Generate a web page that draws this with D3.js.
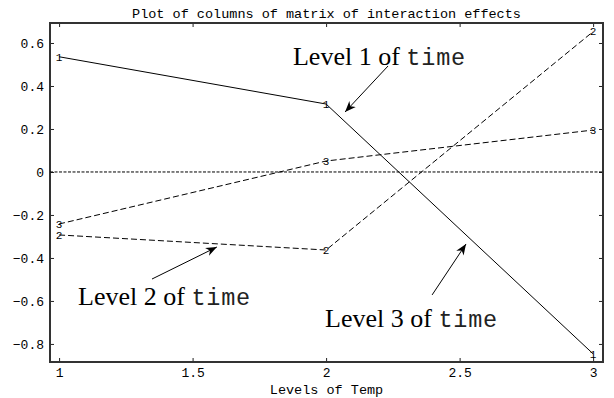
<!DOCTYPE html>
<html>
<head>
<meta charset="utf-8">
<style>
  body { margin: 0; background: #fff; }
  svg { display: block; }
  .tick text, .lbl { font-family: "Liberation Mono", "DejaVu Sans Mono", monospace; }
</style>
<script src="https://cdn.jsdelivr.net/npm/d3@7"></script>
</head>
<body>
<script>
// levels of Temp on x, one series per level of time
var temps = [1, 2, 3];
var level1 = [0.536, 0.316, -0.846];
var level2 = [-0.293, -0.363, 0.653];
var level3 = [-0.242, 0.051, 0.195];
var seriesNames = ["1", "2", "3"];
var xTicks = [1, 1.5, 2, 2.5, 3];
var yTicks = [-0.8, -0.6, -0.4, -0.2, 0, 0.2, 0.4, 0.6];

// annotation text + arrow (in data units)
var notes = [
  {lvl: "1", tx: 1.876, ty: 0.498, ax: 2.232, ay: 0.493, bx: 2.071, by: 0.279},
  {lvl: "2", tx: 1.071, ty: -0.619, ax: 1.348, ay: -0.498, bx: 1.591, by: -0.349},
  {lvl: "3", tx: 1.996, ty: -0.721, ax: 2.397, ay: -0.572, bx: 2.524, by: -0.335}
];

var W = 614, H = 398;
var pL = 50, pR = 603, pT = 23, pB = 362;

var x = d3.scaleLinear().domain([0.966, 3.037]).range([pL, pR]);
var y = d3.scaleLinear().domain([-0.884, 0.693]).range([pB, pT]);

var svg = d3.select("body").append("svg")
  .attr("width", W).attr("height", H);

svg.append("defs").append("marker")
  .attr("id", "arr")
  .attr("viewBox", "0 0 10 10")
  .attr("refX", 10).attr("refY", 5)
  .attr("markerWidth", 11).attr("markerHeight", 11)
  .attr("markerUnits", "userSpaceOnUse")
  .attr("orient", "auto")
  .append("path")
  .attr("d", "M0,1 L10,5 L0,9 L3,5 Z")
  .attr("fill", "#000");

// title
svg.append("text").attr("class", "lbl")
  .attr("x", (pL + pR) / 2).attr("y", 18)
  .attr("text-anchor", "middle")
  .style("font-size", "13.5px")
  .text("Plot of columns of matrix of interaction effects");

// axes with inward ticks
function styleAxis(g) {
  g.select(".domain").remove();
  g.selectAll(".tick line").attr("stroke", "#222").attr("stroke-width", 1);
  g.selectAll(".tick text").style("font-size", "13px").attr("fill", "#000");
}
svg.append("g").attr("transform", "translate(0," + pB + ")")
  .call(d3.axisBottom(x).tickValues(xTicks).tickSizeInner(-4).tickSizeOuter(0).tickPadding(6).tickFormat(d3.format("")))
  .call(styleAxis);
svg.append("g").attr("transform", "translate(0," + pT + ")")
  .call(d3.axisTop(x).tickValues(xTicks).tickSizeInner(-4).tickSizeOuter(0).tickFormat(""))
  .call(styleAxis);
svg.append("g").attr("transform", "translate(" + pL + ",0)")
  .call(d3.axisLeft(y).tickValues(yTicks).tickSizeInner(-4).tickSizeOuter(0).tickPadding(6).tickFormat(d3.format("")))
  .call(styleAxis);
svg.append("g").attr("transform", "translate(" + pR + ",0)")
  .call(d3.axisRight(y).tickValues(yTicks).tickSizeInner(-4).tickSizeOuter(0).tickFormat(""))
  .call(styleAxis);

// frame
svg.append("rect")
  .attr("x", pL).attr("y", pT)
  .attr("width", pR - pL).attr("height", pB - pT)
  .attr("fill", "none").attr("stroke", "#333").attr("stroke-width", 2);

// x-axis label
svg.append("text").attr("class", "lbl")
  .attr("x", (pL + pR) / 2).attr("y", 394)
  .attr("text-anchor", "middle")
  .style("font-size", "13.5px")
  .text("Levels of Temp");

// zero reference line
svg.append("line")
  .attr("x1", pL).attr("x2", pR)
  .attr("y1", y(0)).attr("y2", y(0))
  .attr("stroke", "#000").attr("stroke-width", 1)
  .attr("stroke-dasharray", "3,1.5");

var series = [level1, level2, level3];
var dashes = [null, "6,3", "6,3"];
var line = d3.line().x(d => x(d[0])).y(d => y(d[1]));

series.forEach(function (vals, i) {
  var pts = temps.map((t, j) => [t, vals[j]]);
  svg.append("path")
    .datum(pts)
    .attr("d", line)
    .attr("fill", "none")
    .attr("stroke", "#000")
    .attr("stroke-width", 1)
    .attr("stroke-dasharray", dashes[i]);
  svg.append("g").selectAll("text")
    .data(pts).enter().append("text")
    .attr("class", "lbl")
    .attr("x", d => x(d[0])).attr("y", d => y(d[1]))
    .attr("dy", "0.35em")
    .attr("text-anchor", "middle")
    .style("font-size", "11px")
    .text(seriesNames[i]);
});

// annotations
notes.forEach(function (n) {
  svg.append("line")
    .attr("x1", x(n.ax)).attr("y1", y(n.ay))
    .attr("x2", x(n.bx)).attr("y2", y(n.by))
    .attr("stroke", "#000").attr("stroke-width", 1)
    .attr("marker-end", "url(#arr)");
  var t = svg.append("text")
    .attr("x", x(n.tx)).attr("y", y(n.ty));
  t.append("tspan")
    .style("font-family", "'Liberation Serif', 'DejaVu Serif', serif")
    .style("font-size", "26px")
    .text("Level " + n.lvl + " of ");
  t.append("tspan")
    .style("font-family", "'Liberation Mono', 'DejaVu Sans Mono', monospace")
    .style("font-size", "23.5px")
    .style("letter-spacing", "0.8px")
    .attr("fill", "#222")
    .text("time");
});
</script>
</body>
</html>
